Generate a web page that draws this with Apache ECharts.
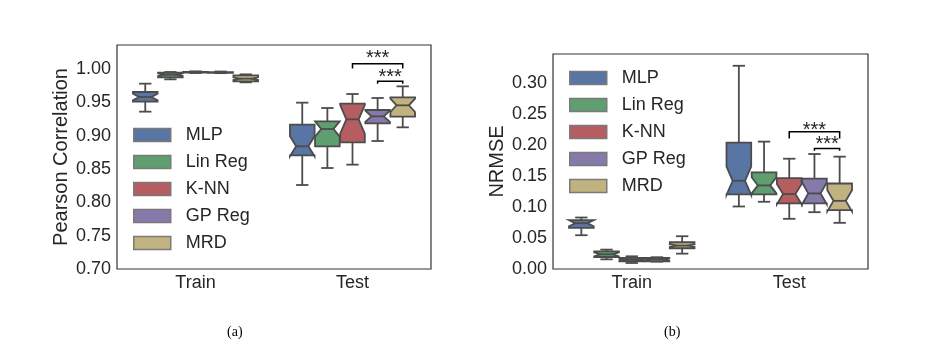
<!DOCTYPE html>
<html>
<head>
<meta charset="utf-8">
<script src="https://cdn.jsdelivr.net/npm/echarts@6/dist/echarts.min.js"></script>
<style>
  html, body { margin: 0; padding: 0; background: #fff; }
  #chart { width: 943px; height: 350px; }
</style>
</head>
<body>
<div id="chart"></div>
<script>
// categories
var groups = ["Train", "Test"];
var models = ["MLP", "Lin Reg", "K-NN", "GP Reg", "MRD"];

// one row per model: [whiskerLow, q1, notchLow, median, notchHigh, q3, whiskerHigh]
var pearsonTrain = [
  [0.936, 0.951, 0.953, 0.958, 0.963, 0.9655, 0.978],
  [0.9845, 0.9875, 0.9895, 0.9915, 0.9935, 0.9945, 0.9955],
  [0.994, 0.9945, 0.9947, 0.995, 0.9953, 0.9955, 0.9965],
  [0.9938, 0.9944, 0.9946, 0.9949, 0.9952, 0.9954, 0.9962],
  [0.98, 0.9815, 0.9835, 0.9855, 0.9875, 0.9905, 0.992]
];
var pearsonTest = [
  [0.826, 0.8705, 0.869, 0.884, 0.899, 0.9165, 0.9495],
  [0.8515, 0.884, 0.8985, 0.91, 0.9215, 0.9215, 0.9415],
  [0.8565, 0.89, 0.903, 0.9245, 0.946, 0.948, 0.9625],
  [0.892, 0.9185, 0.9205, 0.929, 0.9375, 0.9385, 0.9565],
  [0.9125, 0.9285, 0.9355, 0.9455, 0.9555, 0.9575, 0.974]
];
var nrmseTrain = [
  [0.0545, 0.0664, 0.069, 0.0739, 0.0788, 0.0788, 0.0831],
  [0.0156, 0.0194, 0.0205, 0.0237, 0.027, 0.0286, 0.0313],
  [0.0097, 0.0124, 0.0135, 0.0151, 0.0167, 0.0178, 0.0205],
  [0.0119, 0.0124, 0.0138, 0.0156, 0.0172, 0.0178, 0.019],
  [0.0248, 0.0335, 0.0355, 0.0378, 0.04, 0.0432, 0.0529]
];
var nrmseTest = [
  [0.1009, 0.1203, 0.1195, 0.1424, 0.1653, 0.204, 0.328],
  [0.1085, 0.1203, 0.122, 0.1349, 0.148, 0.156, 0.2056],
  [0.081, 0.1058, 0.1045, 0.1209, 0.1373, 0.1468, 0.178],
  [0.0917, 0.1058, 0.1045, 0.122, 0.1395, 0.1457, 0.1856],
  [0.0745, 0.095, 0.093, 0.11, 0.127, 0.138, 0.1813]
];

// significance brackets: [group, fromModel, toModel, barY, legY, starsY]
var pearsonSig = [
  [1, 2, 4, 1.008, 1.0006, 1.022],
  [1, 3, 4, 0.9815, 0.978, 0.993]
];
var nrmseSig = [
  [1, 2, 4, 0.2214, 0.2107, 0.2306],
  [1, 3, 4, 0.1946, 0.1907, 0.208]
];

var colors = ["#5875a4", "#5f9e6e", "#b55d60", "#857aaa", "#c1b37f"];
var lineColor = "#4c4c4c";
var textColor = "#262626";
var font = "'Liberation Sans', Arial, sans-serif";

var myChart = echarts.init(document.getElementById("chart"));

// x position of a model's box inside a group band
function boxCenter(api, cat, hue) {
  var band = api.size([1, 0])[0];
  var slot = band * 0.8 / models.length;
  return {
    cx: api.coord([cat, 0])[0] + (hue - (models.length - 1) / 2) * slot,
    w: slot * 0.98
  };
}

function boxRenderer(hue) {
  return function (params, api) {
    var cat = api.value(0);
    var b = boxCenter(api, cat, hue);
    var y = function (i) { return api.coord([cat, api.value(i)])[1]; };
    var lo = y(1), q1 = y(2), nlo = y(3), med = y(4), nhi = y(5), q3 = y(6), hi = y(7);
    var x0 = b.cx - b.w / 2, x1 = b.cx + b.w / 2;
    var xn0 = b.cx - b.w / 4, xn1 = b.cx + b.w / 4;
    var ls = { stroke: lineColor, lineWidth: 1.8, fill: null };
    return {
      type: "group",
      children: [
        { type: "line", shape: { x1: b.cx, y1: q3, x2: b.cx, y2: hi }, style: ls },
        { type: "line", shape: { x1: b.cx, y1: q1, x2: b.cx, y2: lo }, style: ls },
        { type: "line", shape: { x1: xn0, y1: hi, x2: xn1, y2: hi }, style: ls },
        { type: "line", shape: { x1: xn0, y1: lo, x2: xn1, y2: lo }, style: ls },
        {
          type: "polygon",
          shape: {
            points: [[x0, q1], [x1, q1], [x1, nlo], [xn1, med], [x1, nhi], [x1, q3],
                     [x0, q3], [x0, nhi], [xn0, med], [x0, nlo]]
          },
          style: { fill: colors[hue], stroke: lineColor, lineWidth: 1.8 }
        },
        { type: "line", shape: { x1: xn0, y1: med, x2: xn1, y2: med }, style: ls }
      ]
    };
  };
}

function sigRenderer(params, api) {
  var cat = api.value(0);
  var a = boxCenter(api, cat, api.value(1)).cx;
  var c = boxCenter(api, cat, api.value(2)).cx;
  var bar = api.coord([cat, api.value(3)])[1];
  var leg = api.coord([cat, api.value(4)])[1];
  var st = api.coord([cat, api.value(5)])[1];
  return {
    type: "group",
    children: [
      { type: "polyline", shape: { points: [[a, leg], [a, bar], [c, bar], [c, leg]] },
        style: { stroke: "#000", lineWidth: 1.5, fill: null } },
      { type: "text", x: (a + c) / 2, y: st + 4,
        style: { text: "***", fill: textColor, font: "20px " + font, align: "center", verticalAlign: "middle" } }
    ]
  };
}

function rows(train, test, m) {
  return [[0].concat(train[m]), [1].concat(test[m])];
}

var series = [];
models.forEach(function (name, m) {
  series.push({
    name: name, type: "custom", xAxisIndex: 0, yAxisIndex: 0,
    itemStyle: { color: colors[m] },
    renderItem: boxRenderer(m),
    data: rows(pearsonTrain, pearsonTest, m)
  });
});
models.forEach(function (name, m) {
  series.push({
    name: name, type: "custom", xAxisIndex: 1, yAxisIndex: 1,
    itemStyle: { color: colors[m] },
    renderItem: boxRenderer(m),
    data: rows(nrmseTrain, nrmseTest, m)
  });
});
series.push({ type: "custom", xAxisIndex: 0, yAxisIndex: 0, renderItem: sigRenderer, data: pearsonSig, silent: true });
series.push({ type: "custom", xAxisIndex: 1, yAxisIndex: 1, renderItem: sigRenderer, data: nrmseSig, silent: true });

function xAxis(idx) {
  return {
    type: "category", gridIndex: idx, data: groups,
    axisLine: { show: false }, axisTick: { show: false },
    axisLabel: { fontSize: 18, fontFamily: font, color: textColor, margin: 5 }
  };
}
function yAxis(idx, name, max) {
  return {
    type: "value", gridIndex: idx, min: idx === 0 ? 0.7 : 0, max: max, interval: 0.05,
    name: name, nameLocation: "middle", nameGap: 46,
    nameTextStyle: { fontSize: 20, fontFamily: font, color: textColor },
    axisLine: { show: false }, axisTick: { show: false }, splitLine: { show: false },
    axisLabel: {
      fontSize: 18, fontFamily: font, color: textColor, margin: 6, showMaxLabel: false,
      formatter: function (v) { return v.toFixed(2); }
    }
  };
}
function legend(left, top) {
  return {
    orient: "vertical", left: left, top: top, data: models, icon: "rect",
    itemWidth: 37, itemHeight: 13, itemGap: 9, selectedMode: false,
    itemStyle: { borderColor: "#7a7a7a", borderWidth: 1.5 },
    textStyle: { fontSize: 18, fontFamily: font, color: textColor, padding: [0, 0, 0, 10] }
  };
}

var option = {
  animation: false,
  grid: [
    { left: 117, top: 45, width: 314, height: 224, show: true, borderColor: "#333", borderWidth: 1.2 },
    { left: 553, top: 54, width: 315, height: 215, show: true, borderColor: "#333", borderWidth: 1.2 }
  ],
  xAxis: [xAxis(0), xAxis(1)],
  yAxis: [yAxis(0, "Pearson Correlation", 1.036), yAxis(1, "NRMSE", 0.347)],
  legend: [legend(128, 121), legend(564, 64)],
  graphic: [
    { type: "text", left: 227, top: 325, style: { text: "(a)", font: "14px 'Liberation Serif', serif", fill: "#000" } },
    { type: "text", left: 664, top: 325, style: { text: "(b)", font: "14px 'Liberation Serif', serif", fill: "#000" } }
  ],
  series: series
};
myChart.setOption(option);
</script>
</body>
</html>
